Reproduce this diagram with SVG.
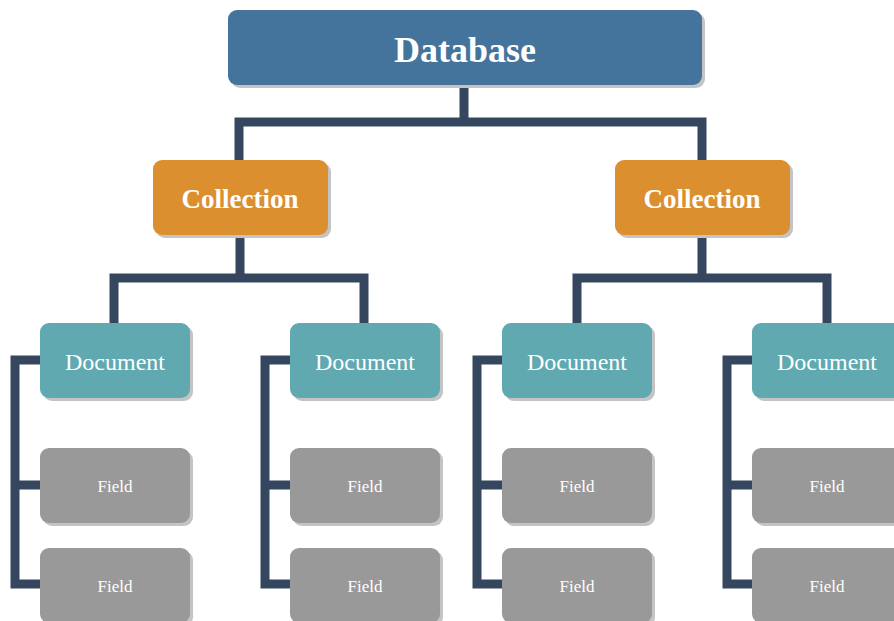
<svg xmlns="http://www.w3.org/2000/svg" width="894" height="621" viewBox="0 0 894 621">
<style>
.sh{fill:#c4c4c4}
.db{fill:#44739b}
.col{fill:#db8f2f}
.doc{fill:#60a9b1}
.fld{fill:#999999}
.t{font-family:"Liberation Serif","Times New Roman",serif;fill:#ffffff;text-anchor:middle}
.tb{font-weight:bold}
.c{fill:none;stroke:#34475e;stroke-width:9;stroke-linejoin:miter;stroke-linecap:butt}
</style>
<g id="connectors">
<path class="c" d="M464,85 V122 M239,160 V122 H702 V160"/>
<path class="c" d="M240,235 V278 M114,323 V278 H364 V323"/>
<path class="c" d="M702,235 V278 M577,323 V278 H827 V323"/>
<path class="c" d="M40,360 H15 V584 H40 M15,485 H40"/>
<path class="c" d="M290,360 H265 V584 H290 M265,485 H290"/>
<path class="c" d="M502,360 H477 V584 H502 M477,485 H502"/>
<path class="c" d="M752,360 H727 V584 H752 M727,485 H752"/>
</g>
<g id="database">
<rect class="sh" x="231" y="13" width="474" height="75" rx="9"/>
<rect class="db" x="228" y="10" width="474" height="75" rx="9"/>
<text class="t tb" x="465" y="62" font-size="36">Database</text>
</g>
<g id="collection1">
<rect class="sh" x="156" y="163" width="175" height="75" rx="9"/>
<rect class="col" x="153" y="160" width="175" height="75" rx="9"/>
<text class="t tb" x="240" y="208" font-size="27">Collection</text>
</g>
<g id="collection2">
<rect class="sh" x="618" y="163" width="175" height="75" rx="9"/>
<rect class="col" x="615" y="160" width="175" height="75" rx="9"/>
<text class="t tb" x="702" y="208" font-size="27">Collection</text>
</g>
<g id="document1">
<rect class="sh" x="43" y="326" width="150" height="75" rx="9"/>
<rect class="doc" x="40" y="323" width="150" height="75" rx="9"/>
<text class="t" x="115" y="370" font-size="24">Document</text>
</g>
<g id="document2">
<rect class="sh" x="293" y="326" width="150" height="75" rx="9"/>
<rect class="doc" x="290" y="323" width="150" height="75" rx="9"/>
<text class="t" x="365" y="370" font-size="24">Document</text>
</g>
<g id="document3">
<rect class="sh" x="505" y="326" width="150" height="75" rx="9"/>
<rect class="doc" x="502" y="323" width="150" height="75" rx="9"/>
<text class="t" x="577" y="370" font-size="24">Document</text>
</g>
<g id="document4">
<rect class="sh" x="755" y="326" width="150" height="75" rx="9"/>
<rect class="doc" x="752" y="323" width="150" height="75" rx="9"/>
<text class="t" x="827" y="370" font-size="24">Document</text>
</g>
<g id="field1a">
<rect class="sh" x="43" y="451" width="150" height="75" rx="9"/>
<rect class="fld" x="40" y="448" width="150" height="75" rx="9"/>
<text class="t" x="115" y="492" font-size="17">Field</text>
</g>
<g id="field1b">
<rect class="sh" x="43" y="551" width="150" height="75" rx="9"/>
<rect class="fld" x="40" y="548" width="150" height="75" rx="9"/>
<text class="t" x="115" y="592" font-size="17">Field</text>
</g>
<g id="field2a">
<rect class="sh" x="293" y="451" width="150" height="75" rx="9"/>
<rect class="fld" x="290" y="448" width="150" height="75" rx="9"/>
<text class="t" x="365" y="492" font-size="17">Field</text>
</g>
<g id="field2b">
<rect class="sh" x="293" y="551" width="150" height="75" rx="9"/>
<rect class="fld" x="290" y="548" width="150" height="75" rx="9"/>
<text class="t" x="365" y="592" font-size="17">Field</text>
</g>
<g id="field3a">
<rect class="sh" x="505" y="451" width="150" height="75" rx="9"/>
<rect class="fld" x="502" y="448" width="150" height="75" rx="9"/>
<text class="t" x="577" y="492" font-size="17">Field</text>
</g>
<g id="field3b">
<rect class="sh" x="505" y="551" width="150" height="75" rx="9"/>
<rect class="fld" x="502" y="548" width="150" height="75" rx="9"/>
<text class="t" x="577" y="592" font-size="17">Field</text>
</g>
<g id="field4a">
<rect class="sh" x="755" y="451" width="150" height="75" rx="9"/>
<rect class="fld" x="752" y="448" width="150" height="75" rx="9"/>
<text class="t" x="827" y="492" font-size="17">Field</text>
</g>
<g id="field4b">
<rect class="sh" x="755" y="551" width="150" height="75" rx="9"/>
<rect class="fld" x="752" y="548" width="150" height="75" rx="9"/>
<text class="t" x="827" y="592" font-size="17">Field</text>
</g>
</svg>
